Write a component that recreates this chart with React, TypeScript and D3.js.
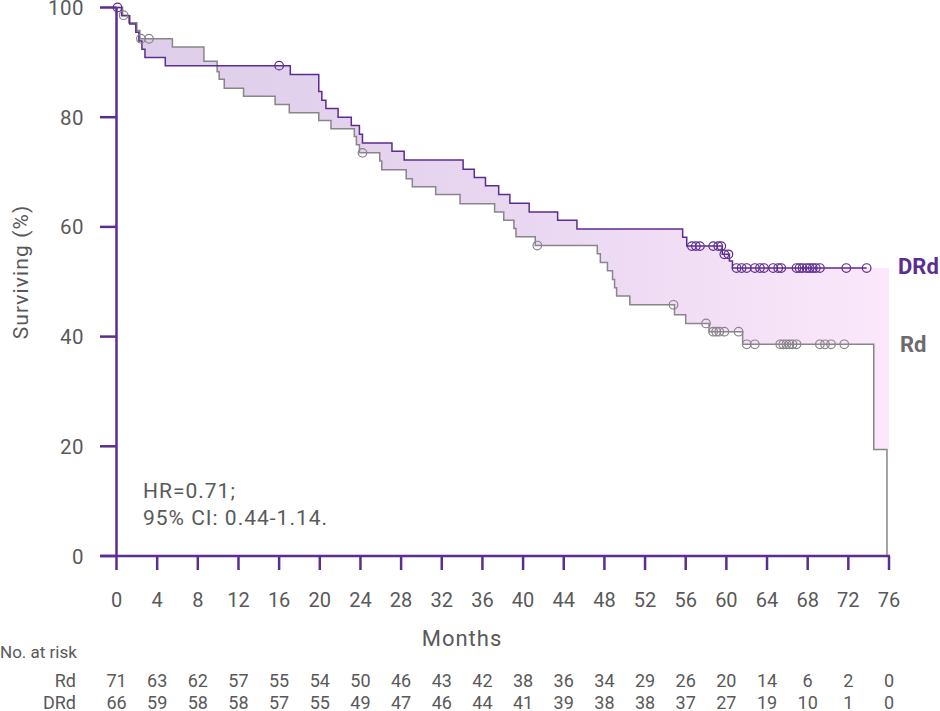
import { scaleLinear, line, area, curveStepAfter, range } from "d3";

// Kaplan-Meier steps: [month, % surviving]
const rdSteps: [number, number][] = [
  [0, 100], [0.6, 98.6], [1.2, 97.2], [2.0, 95.8], [2.3, 94.3], [5.5, 92.8],
  [8.6, 90.2], [9.9, 88.3], [10.1, 86.9], [10.6, 85.3], [12.5, 83.8], [15.6, 82.3],
  [17.0, 80.8], [19.9, 79.4], [21.1, 77.9], [23.4, 76.5], [23.6, 75.0], [23.9, 73.5],
  [25.9, 72.0], [26.1, 70.4], [28.5, 68.8], [29.1, 67.3], [31.4, 65.9], [33.8, 64.2],
  [37.2, 62.7], [38.1, 61.2], [39.1, 59.7], [39.3, 58.2], [41.2, 56.6], [47.3, 55.1],
  [47.6, 53.5], [48.3, 52.0], [48.8, 50.4], [49.0, 48.9], [49.2, 47.4], [50.5, 45.8],
  [54.9, 44.0], [56.0, 42.4], [58.3, 40.9], [61.6, 38.6], [74.5, 19.4], [75.8, 0],
];

const drdSteps: [number, number][] = [
  [0, 100], [0.5, 98.5], [1.3, 97.0], [1.9, 95.5], [2.2, 93.9], [2.5, 92.4],
  [2.8, 90.9], [4.8, 89.4], [17.1, 87.8], [19.9, 84.7], [20.2, 83.1], [20.6, 81.6],
  [21.8, 80.0], [23.1, 78.5], [23.9, 76.9], [24.2, 75.3], [27.1, 73.8], [28.3, 72.2],
  [34.1, 70.5], [35.2, 69.0], [36.3, 67.5], [37.6, 65.9], [38.7, 64.3], [40.6, 62.7],
  [43.4, 61.2], [45.3, 59.6], [55.7, 58.1], [56.1, 56.5], [59.6, 55.0], [60.3, 53.8],
  [60.6, 52.5],
];

const rdCensored = [
  0.7, 2.4, 3.2, 24.2, 41.4, 54.8, 58.0, 58.7, 59.0, 59.3, 59.8, 61.2, 62.0, 62.8,
  65.3, 65.6, 65.9, 66.2, 66.5, 66.9, 69.2, 69.7, 70.3, 71.6,
];

const drdCensored = [
  0.1, 16.0, 56.6, 57.0, 57.4, 58.7, 59.2, 59.5, 59.8, 60.2, 61.0, 61.5, 62.0, 62.8,
  63.3, 63.7, 64.6, 65.1, 65.4, 66.9, 67.2, 67.5, 67.9, 68.2, 68.5, 68.8, 69.2, 71.8, 73.8,
];

const xTicks = range(0, 77, 4);
const yTicks = [0, 20, 40, 60, 80, 100];
const rdAtRisk = [71, 63, 62, 57, 55, 54, 50, 46, 43, 42, 38, 36, 34, 29, 26, 20, 14, 6, 2, 0];
const drdAtRisk = [66, 59, 58, 58, 57, 55, 49, 47, 46, 44, 41, 39, 38, 38, 37, 27, 19, 10, 1, 0];

const PURPLE = "#5c2d91";
const GRAY_LINE = "#8a848b";
const TEXT = "#595959";
const FONT = "Roboto, 'Noto Sans', sans-serif";

function valueAt(steps: [number, number][], t: number) {
  let v = steps[0][1];
  for (const [time, value] of steps) {
    if (time <= t) v = value;
    else break;
  }
  return v;
}

export default function App() {
  const width = 940;
  const height = 711;

  const x = scaleLinear().domain([0, 76]).range([116.5, 889]);
  const y = scaleLinear().domain([0, 100]).range([556, 7.5]);

  const stepLine = line<[number, number]>()
    .x((d) => x(d[0]))
    .y((d) => y(d[1]))
    .curve(curveStepAfter);

  const rdEnd = rdSteps[rdSteps.length - 1][0];
  const drdLast = drdCensored[drdCensored.length - 1];
  const drdLine: [number, number][] = [...drdSteps, [drdLast, valueAt(drdSteps, drdLast)]];

  // band between the two curves, Rd held at its last non-zero value up to 76
  const bandTimes = Array.from(
    new Set([...rdSteps.map((d) => d[0]), ...drdSteps.map((d) => d[0])])
  )
    .filter((t) => t < rdEnd)
    .sort((a, b) => a - b);
  const bandData = [...bandTimes, 76].map((t) => ({
    t,
    top: valueAt(drdSteps, t),
    bottom: valueAt(rdSteps, Math.min(t, rdEnd - 0.01)),
  }));
  const band = area<{ t: number; top: number; bottom: number }>()
    .x((d) => x(d.t))
    .y0((d) => y(d.bottom))
    .y1((d) => y(d.top))
    .curve(curveStepAfter);

  const axisY = y(0);

  return (
    <svg
      width={width}
      height={height}
      viewBox={`0 0 ${width} ${height}`}
      style={{ position: "absolute", left: 0, top: 0, background: "#ffffff" }}
      fontFamily={FONT}
    >
      <defs>
        <linearGradient id="bandFill" x1="0" x2="1" y1="0" y2="0">
          <stop offset="0%" stopColor="#ddcde9" />
          <stop offset="55%" stopColor="#ead7f1" />
          <stop offset="100%" stopColor="#fbe8fb" />
        </linearGradient>
      </defs>

      <path d={band(bandData) ?? ""} fill="url(#bandFill)" />

      <path d={stepLine(rdSteps) ?? ""} fill="none" stroke={GRAY_LINE} strokeWidth={1.5} />
      <path d={stepLine(drdLine) ?? ""} fill="none" stroke={PURPLE} strokeWidth={1.5} />

      {rdCensored.map((t, i) => (
        <circle
          key={`rc${i}`}
          cx={x(t)}
          cy={y(valueAt(rdSteps, t))}
          r={4.3}
          fill="none"
          stroke={GRAY_LINE}
          strokeWidth={1.2}
        />
      ))}
      {drdCensored.map((t, i) => (
        <circle
          key={`dc${i}`}
          cx={x(t)}
          cy={y(valueAt(drdSteps, t))}
          r={4.3}
          fill="none"
          stroke={PURPLE}
          strokeWidth={1.2}
        />
      ))}

      {/* y axis */}
      <line x1={x(0)} x2={x(0)} y1={y(100)} y2={axisY} stroke={PURPLE} strokeWidth={2.5} />
      {yTicks.map((v) => (
        <g key={`y${v}`}>
          <line x1={100} x2={x(0)} y1={y(v)} y2={y(v)} stroke={PURPLE} strokeWidth={2.5} />
          <text x={84} y={y(v) + 7.5} textAnchor="end" fontSize={20.5} letterSpacing={0.5} fill={TEXT}>
            {v}
          </text>
        </g>
      ))}

      {/* x axis */}
      <line x1={100} x2={x(76) + 1} y1={axisY} y2={axisY} stroke={PURPLE} strokeWidth={2.5} />
      {xTicks.map((t) => (
        <g key={`x${t}`}>
          <line x1={x(t)} x2={x(t)} y1={axisY} y2={axisY + 14} stroke={PURPLE} strokeWidth={2.5} />
          <text x={x(t)} y={607} textAnchor="middle" fontSize={20} fill={TEXT}>
            {t}
          </text>
        </g>
      ))}

      <text x={462} y={646} textAnchor="middle" fontSize={22} letterSpacing={1} fill={TEXT}>
        Months
      </text>
      <text
        transform="translate(28, 272) rotate(-90)"
        textAnchor="middle"
        fontSize={21}
        letterSpacing={1.1}
        fill={TEXT}
      >
        Surviving (%)
      </text>

      <text x={143} y={498} fontSize={21} letterSpacing={1} fill={TEXT}>
        HR=0.71;
      </text>
      <text x={143} y={525} fontSize={21} letterSpacing={1} fill={TEXT}>
        95% CI: 0.44-1.14.
      </text>

      <text x={898} y={274} fontSize={22} fontWeight={700} fill={PURPLE}>
        DRd
      </text>
      <text x={900} y={352} fontSize={22} fontWeight={700} fill="#6e6870">
        Rd
      </text>

      {/* number at risk */}
      <text x={0} y={658} fontSize={17} fill={TEXT}>
        No. at risk
      </text>
      <text x={76} y={687} textAnchor="end" fontSize={18} fill={TEXT}>
        Rd
      </text>
      <text x={76} y={709} textAnchor="end" fontSize={18} fill={TEXT}>
        DRd
      </text>
      {xTicks.map((t, i) => (
        <g key={`r${t}`}>
          <text x={x(t)} y={687} textAnchor="middle" fontSize={18} fill={TEXT}>
            {rdAtRisk[i]}
          </text>
          <text x={x(t)} y={709} textAnchor="middle" fontSize={18} fill={TEXT}>
            {drdAtRisk[i]}
          </text>
        </g>
      ))}
    </svg>
  );
}
